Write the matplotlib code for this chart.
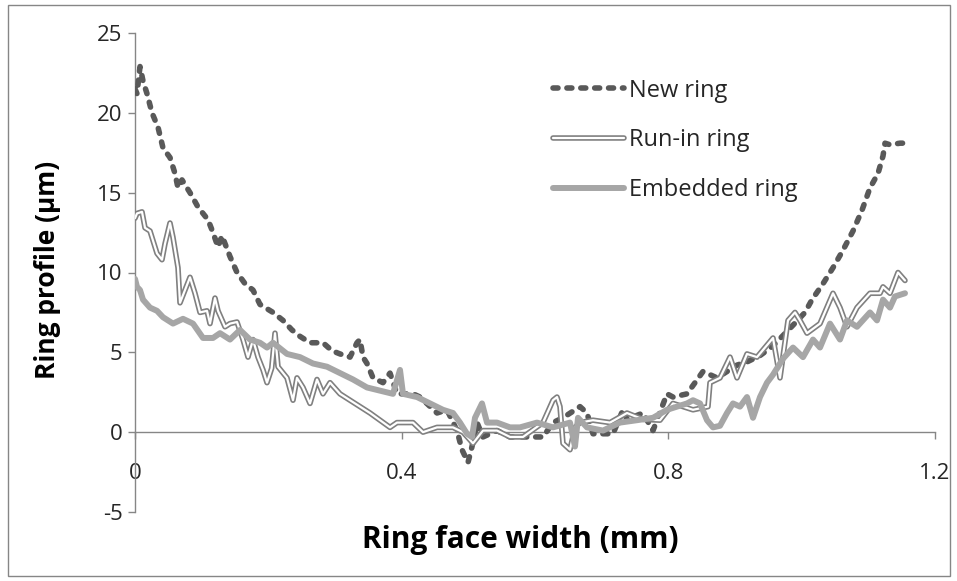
import matplotlib
matplotlib.use("Agg")
import matplotlib.pyplot as plt
from matplotlib.patches import Rectangle
from matplotlib.legend_handler import HandlerTuple

# ---------------- data ----------------
new_x = [0.000, 0.003, 0.0075, 0.012, 0.018, 0.0255, 0.0345, 0.042, 0.0525, 0.060,
         0.0645, 0.0705, 0.0825, 0.0945, 0.1095, 0.117, 0.1245, 0.1305, 0.1425, 0.153,
         0.165, 0.177, 0.1875, 0.207, 0.222, 0.2355, 0.2475, 0.2625, 0.282, 0.2955,
         0.3075, 0.3225, 0.333, 0.3375, 0.342, 0.348, 0.357, 0.372, 0.3825, 0.393,
         0.417, 0.4275, 0.453, 0.468, 0.483, 0.4905, 0.4995, 0.5055, 0.513, 0.522,
         0.543, 0.5625, 0.588, 0.612, 0.627, 0.642, 0.6675, 0.678, 0.687, 0.717,
         0.732, 0.738, 0.762, 0.777, 0.798, 0.807, 0.828, 0.852, 0.873, 0.903,
         0.918, 0.9375, 0.957, 0.987, 1.005, 1.0155, 1.032, 1.047, 1.062, 1.077,
         1.0905, 1.1025, 1.1145, 1.122, 1.125, 1.1325, 1.1475, 1.155]
new_y = [21.5, 21.2, 22.9, 22.0, 21.2, 20.0, 19.1, 17.8, 17.2, 16.2,
         15.3, 15.8, 15.0, 14.1, 13.3, 12.5, 11.6, 12.3, 11.0, 10.0,
         9.3, 8.9, 8.0, 7.5, 7.0, 6.4, 6.0, 5.6, 5.6, 5.1,
         4.9, 4.7, 5.6, 5.8, 4.7, 4.3, 3.4, 3.1, 3.7, 2.4,
         2.4, 2.2, 1.2, 1.4, 0.1, -1.1, -1.9, -0.9, 0.6, -0.3,
         0.1, -0.3, -0.3, -0.3, 0.6, 0.9, 1.6, 1.2, -0.1, -0.1,
         1.4, 0.8, 1.2, 0.1, 2.4, 2.2, 2.4, 3.8, 3.4, 4.2,
         4.4, 4.8, 5.4, 6.7, 7.5, 8.3, 9.3, 10.3, 11.4, 12.6,
         13.9, 15.3, 16.2, 17.3, 18.1, 18.0, 18.1, 18.1]

run_x = [0.000, 0.003, 0.0105, 0.015, 0.0225, 0.033, 0.0405, 0.045, 0.0525, 0.057,
         0.0645, 0.0675, 0.075, 0.0825, 0.090, 0.0975, 0.108, 0.1125, 0.120, 0.1245,
         0.135, 0.1425, 0.153, 0.162, 0.1695, 0.177, 0.1845, 0.192, 0.198, 0.205,
         0.210, 0.2145, 0.228, 0.237, 0.243, 0.252, 0.2625, 0.273, 0.282, 0.2925,
         0.3075, 0.3225, 0.3375, 0.3525, 0.3675, 0.3825, 0.393, 0.417, 0.432, 0.453,
         0.477, 0.492, 0.507, 0.522, 0.543, 0.5625, 0.582, 0.612, 0.627, 0.633,
         0.6375, 0.642, 0.6525, 0.660, 0.6675, 0.687, 0.7125, 0.738, 0.762, 0.7875,
         0.807, 0.837, 0.8595, 0.8625, 0.8775, 0.8925, 0.903, 0.918, 0.933, 0.957,
         0.9675, 0.9795, 0.990, 0.9975, 1.008, 1.0275, 1.047, 1.0575, 1.068, 1.083,
         1.1025, 1.1175, 1.122, 1.1325, 1.1445, 1.155]
run_y = [13.4, 13.7, 13.8, 12.8, 12.6, 11.2, 10.8, 11.8, 13.1, 12.2,
         10.3, 8.1, 8.9, 9.7, 8.7, 7.5, 7.6, 6.8, 8.4, 7.6,
         6.6, 6.8, 6.9, 5.8, 4.7, 5.8, 4.7, 3.9, 3.1, 4.0,
         6.2, 4.1, 3.4, 2.0, 3.4, 2.8, 1.8, 3.3, 2.4, 3.1,
         2.4, 2.0, 1.6, 1.2, 0.75, 0.3, 0.6, 0.6, 0.0, 0.3,
         0.3, 0.0, -0.7, 0.1, 0.1, -0.3, -0.3, 0.6, 2.0, 2.2,
         1.6, -0.7, -1.1, 0.3, 0.6, 0.75, 0.6, 1.2, 0.8, 0.75,
         1.8, 1.4, 1.6, 3.1, 3.4, 4.7, 3.4, 4.9, 4.7, 5.9,
         3.4, 7.0, 7.5, 7.0, 6.2, 6.8, 8.7, 7.8, 6.6, 7.8,
         8.7, 8.7, 9.1, 8.7, 10.0, 9.5]

emb_x = [0.000, 0.003, 0.0075, 0.012, 0.0225, 0.033, 0.042, 0.057, 0.072, 0.087,
         0.102, 0.117, 0.1275, 0.1425, 0.1575, 0.1725, 0.1875, 0.198, 0.207, 0.228,
         0.2475, 0.267, 0.288, 0.3075, 0.327, 0.348, 0.3675, 0.387, 0.3975, 0.402,
         0.423, 0.4425, 0.462, 0.477, 0.4875, 0.498, 0.5055, 0.510, 0.5205, 0.528,
         0.543, 0.5625, 0.5775, 0.603, 0.627, 0.6525, 0.660, 0.6645, 0.678, 0.702,
         0.7275, 0.753, 0.777, 0.798, 0.813, 0.828, 0.837, 0.8475, 0.858, 0.867,
         0.8775, 0.888, 0.897, 0.9075, 0.918, 0.927, 0.9375, 0.948, 0.957, 0.972,
         0.987, 1.002, 1.017, 1.0275, 1.0425, 1.0575, 1.068, 1.083, 1.1025, 1.113,
         1.122, 1.1325, 1.140, 1.155]
emb_y = [9.6, 9.1, 8.9, 8.3, 7.8, 7.6, 7.2, 6.8, 7.1, 6.8,
         5.9, 5.9, 6.2, 5.8, 6.4, 5.8, 5.6, 5.3, 5.6, 4.9,
         4.7, 4.3, 4.1, 3.7, 3.3, 2.8, 2.6, 2.4, 3.9, 2.4,
         2.2, 1.8, 1.4, 1.2, 0.6, -0.1, -0.3, 0.9, 1.8, 0.6,
         0.6, 0.3, 0.3, 0.6, 0.3, 0.6, -0.9, 0.9, 0.3, 0.1,
         0.6, 0.75, 0.9, 1.4, 1.6, 1.8, 2.0, 1.8, 0.75, 0.3,
         0.4, 1.2, 1.8, 1.6, 2.2, 0.9, 2.2, 3.1, 3.6, 4.6,
         5.3, 4.7, 5.8, 5.3, 6.8, 5.8, 7.0, 6.6, 7.5, 7.0,
         8.3, 7.8, 8.5, 8.7]

series_labels = ["New ring", "Run-in ring", "Embedded ring"]
x_tick_vals = [0, 0.4, 0.8, 1.2]
x_tick_labels = ["0", "0.4", "0.8", "1.2"]
y_tick_vals = [-5, 0, 5, 10, 15, 20, 25]
y_tick_labels = ["-5", "0", "5", "10", "15", "20", "25"]
x_title = "Ring face width (mm)"
y_title = "Ring profile (\u00b5m)"

# ---------------- styling ----------------
plt.rcParams['font.family'] = ['Open Sans', 'DejaVu Sans']
DARK = "#595959"
MID = "#808080"
LIGHT = "#a6a6a6"
AXIS = "#868686"
TEXT = "#262626"

fig = plt.figure(figsize=(9.57, 5.81), dpi=100)
fig.patch.set_facecolor("white")
fig.add_artist(Rectangle((8 / 957, 1 - 576 / 581), 942 / 957, 571 / 581,
                         transform=fig.transFigure, fill=False,
                         edgecolor=AXIS, linewidth=1.0))

ax = fig.add_axes([135 / 957, 1 - 512 / 581, 800 / 957, 479 / 581])
ax.set_xlim(0, 1.2)
ax.set_ylim(-5, 25)

l_new, = ax.plot(new_x, new_y, color=DARK, lw=4.0, linestyle=(0, (0.9, 1.6)),
                 dash_capstyle="round", solid_capstyle="round",
                 dash_joinstyle="round", zorder=3)
l_run_o, = ax.plot(run_x, run_y, color=MID, lw=4.0, solid_joinstyle="round",
                   solid_capstyle="round", zorder=4)
l_run_i, = ax.plot(run_x, run_y, color="white", lw=1.6, solid_joinstyle="round",
                   solid_capstyle="round", zorder=4.1)
l_emb, = ax.plot(emb_x, emb_y, color=LIGHT, lw=4.3, solid_joinstyle="round",
                 solid_capstyle="round", zorder=5)

for s in ["top", "right"]:
    ax.spines[s].set_visible(False)
ax.spines["left"].set_position(("data", 0))
ax.spines["bottom"].set_position(("data", 0))
for s in ["left", "bottom"]:
    ax.spines[s].set_color(AXIS)
    ax.spines[s].set_linewidth(1.0)

ax.set_xticks(x_tick_vals)
ax.set_xticklabels(x_tick_labels)
ax.set_yticks(y_tick_vals)
ax.set_yticklabels(y_tick_labels)
ax.tick_params(axis="x", direction="out", length=5, width=1, color=AXIS,
               labelsize=16, labelcolor=TEXT, pad=17)
ax.tick_params(axis="y", direction="out", length=5, width=1, color=AXIS,
               labelsize=16, labelcolor=TEXT, pad=4)

ax.set_xlabel(x_title, fontsize=21.5, fontweight="bold", color="black")
ax.xaxis.set_label_coords(0.482, -0.058)
ax.xaxis.label.set_va("center")
ax.set_ylabel(y_title, fontsize=19, fontweight="bold", color="black")
ax.yaxis.set_label_coords(-0.109, 0.505)
ax.yaxis.label.set_va("center")

leg = ax.legend([l_new, (l_run_o, l_run_i), l_emb], series_labels,
                handler_map={tuple: HandlerTuple(ndivide=1, pad=0)},
                loc="upper left", bbox_to_anchor=(0.5225, 0.905),
                frameon=False, fontsize=17, handlelength=3.0, handletextpad=0.2,
                labelspacing=1.1, borderpad=0, borderaxespad=0)
for t in leg.get_texts():
    t.set_color(TEXT)

fig.savefig("out.png", dpi=100, facecolor="white")
